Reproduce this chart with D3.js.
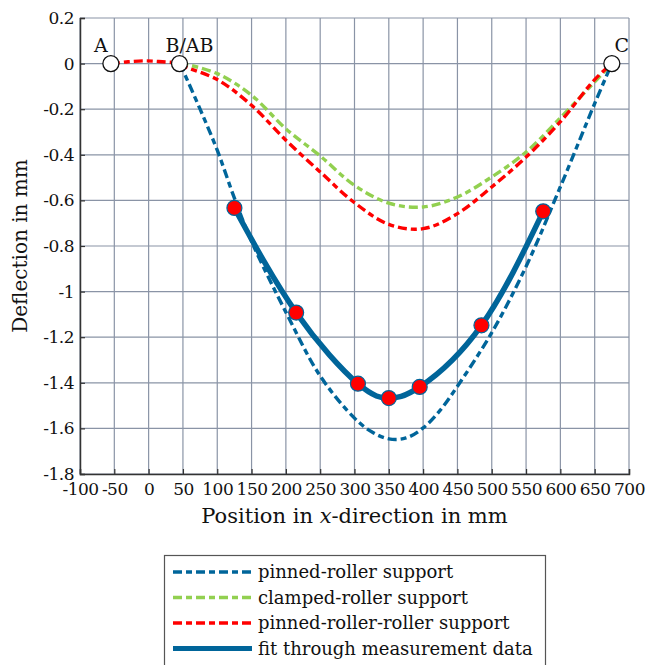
<!DOCTYPE html>
<html>
<head>
<meta charset="utf-8">
<script src="https://cdn.jsdelivr.net/npm/d3@7"></script>
<style>
  body { margin: 0; background: #fff; }
  svg { display: block; }
  svg text { font-family: "DejaVu Serif", "Liberation Serif", serif; }
</style>
</head>
<body>
<div id="chart"></div>
<script>
// Beam deflection chart

const xTicks = [-100, -50, 0, 50, 100, 150, 200, 250, 300, 350, 400, 450, 500, 550, 600, 650, 700];
const yTicks = [0.2, 0, -0.2, -0.4, -0.6, -0.8, -1, -1.2, -1.4, -1.6, -1.8];

// pinned-roller support
const pinnedX = [45, 50, 75, 100, 125, 150, 200, 250, 300, 325, 350, 375, 400, 425, 450, 500, 550, 600, 650, 675];
const pinnedY = [0, -0.03, -0.2, -0.38, -0.59, -0.78, -1.09, -1.37, -1.555, -1.615, -1.646, -1.642, -1.598, -1.52, -1.415, -1.18, -0.89, -0.54, -0.175, 0];

// clamped-roller support
const clampedX = [45, 50, 100, 150, 200, 250, 300, 350, 400, 450, 500, 550, 600, 650, 675];
const clampedY = [0, -0.001, -0.044, -0.139, -0.286, -0.405, -0.534, -0.612, -0.629, -0.585, -0.497, -0.388, -0.238, -0.08, 0];

// pinned-roller-roller support
const prrX = [-55, -30, -5, 20, 45, 50, 100, 150, 200, 250, 300, 350, 400, 450, 500, 550, 600, 650, 675];
const prrY = [0, 0.008, 0.012, 0.008, 0, -0.01, -0.07, -0.183, -0.336, -0.475, -0.61, -0.705, -0.724, -0.658, -0.541, -0.41, -0.255, -0.07, 0];

// measurement data (fit passes through them)
const measX = [125, 215, 305, 350, 395, 485, 575];
const measY = [-0.633, -1.092, -1.404, -1.467, -1.418, -1.148, -0.648];

// supports
const supportX = [-55, 45, 675];
const supportLabels = ['A', 'B/AB', 'C'];

const colors = {
    pinned: '#00659a',
    clamped: '#92d050',
    prr: '#ff0000',
    fit: '#00659a',
    grid: '#8a94a6'
};

const width = 661, height = 665;
const plotLeft = 80, plotRight = 629, plotTop = 18, plotBottom = 474;

const svg = d3.select('#chart').append('svg')
    .attr('width', width)
    .attr('height', height);

const x = d3.scaleLinear().domain([-100, 700]).range([plotLeft, plotRight]);
const y = d3.scaleLinear().domain([-1.8, 0.2]).range([plotBottom, plotTop]);

// Grid
const grid = svg.append('g').attr('class', 'grid');
grid.selectAll('line.v').data(xTicks).enter().append('line')
    .attr('x1', d => x(d)).attr('x2', d => x(d))
    .attr('y1', plotTop).attr('y2', plotBottom)
    .attr('stroke', colors.grid).attr('stroke-width', 1.2);
grid.selectAll('line.h').data(yTicks).enter().append('line')
    .attr('x1', plotLeft).attr('x2', plotRight)
    .attr('y1', d => y(d)).attr('y2', d => y(d))
    .attr('stroke', colors.grid).attr('stroke-width', 1.2);

// Axes
const xAxis = d3.axisBottom(x).tickValues(xTicks).tickSize(-5).tickPadding(7).tickFormat(d => String(d));
const yAxis = d3.axisLeft(y).tickValues(yTicks).tickSize(-5).tickPadding(6).tickFormat(d => String(d));

const gx = svg.append('g').attr('transform', `translate(0,${plotBottom})`).call(xAxis);
const gy = svg.append('g').attr('transform', `translate(${plotLeft},0)`).call(yAxis);
[gx, gy].forEach(g => {
    g.attr('font-family', null).attr('font-size', null);
    g.select('.domain').attr('stroke', '#333').attr('stroke-width', 1.5);
    g.selectAll('.tick line').attr('stroke', '#333').attr('stroke-width', 1.2);
    g.selectAll('.tick text').attr('fill', '#111').style('font-size', '17px')
        .style('letter-spacing', '-0.5px');
});
gx.selectAll('.tick text').attr('dy', '0.8em');

// Curves
const line = d3.line().x(d => x(d[0])).y(d => y(d[1])).curve(d3.curveCatmullRom.alpha(0.5));
const zip = (xs, ys) => xs.map((v, i) => [v, ys[i]]);

const dash = '9,4,6,4';
svg.append('path').datum(zip(clampedX, clampedY))
    .attr('d', line).attr('fill', 'none')
    .attr('stroke', colors.clamped).attr('stroke-width', 3.4).attr('stroke-dasharray', dash);
svg.append('path').datum(zip(prrX, prrY))
    .attr('d', line).attr('fill', 'none')
    .attr('stroke', colors.prr).attr('stroke-width', 3.4).attr('stroke-dasharray', dash);
svg.append('path').datum(zip(pinnedX, pinnedY))
    .attr('d', line).attr('fill', 'none')
    .attr('stroke', colors.pinned).attr('stroke-width', 3.4).attr('stroke-dasharray', dash);

// Fit through measurement data
const fitLine = d3.line().x(d => x(d[0])).y(d => y(d[1])).curve(d3.curveNatural);
svg.append('path').datum(zip(measX, measY))
    .attr('d', fitLine).attr('fill', 'none')
    .attr('stroke', colors.fit).attr('stroke-width', 5.5);

svg.selectAll('circle.meas').data(zip(measX, measY)).enter().append('circle')
    .attr('cx', d => x(d[0])).attr('cy', d => y(d[1])).attr('r', 7.5)
    .attr('fill', '#ff0000').attr('stroke', colors.fit).attr('stroke-width', 1.2);

// Support markers
svg.selectAll('circle.sup').data(supportX).enter().append('circle')
    .attr('cx', d => x(d)).attr('cy', y(0)).attr('r', 8)
    .attr('fill', '#fff').attr('stroke', '#111').attr('stroke-width', 1.3);

const labelOffsets = [[-10, -12], [10, -12], [10, -12]];
svg.selectAll('text.sup').data(supportX).enter().append('text')
    .attr('x', (d, i) => x(d) + labelOffsets[i][0])
    .attr('y', (d, i) => y(0) + labelOffsets[i][1])
    .attr('text-anchor', 'middle')
    .style('font-size', '19px')
    .attr('fill', '#111')
    .text((d, i) => supportLabels[i]);

// Axis labels
const xl = svg.append('text')
    .attr('x', (plotLeft + plotRight) / 2).attr('y', 523)
    .attr('text-anchor', 'middle').style('font-size', '21px').attr('fill', '#111');
xl.append('tspan').text('Position in ');
xl.append('tspan').style('font-style', 'italic').text('x');
xl.append('tspan').text('-direction in mm');

svg.append('text')
    .attr('transform', `translate(27,${(plotTop + plotBottom) / 2}) rotate(-90)`)
    .attr('text-anchor', 'middle').style('font-size', '20px').attr('fill', '#111')
    .text('Deflection in mm');

// Legend
const legendItems = [
    { label: 'pinned-roller support', color: colors.pinned, dash: dash, w: 3.4 },
    { label: 'clamped-roller support', color: colors.clamped, dash: dash, w: 3.4 },
    { label: 'pinned-roller-roller support', color: colors.prr, dash: dash, w: 3.4 },
    { label: 'fit through measurement data', color: colors.fit, dash: null, w: 5 }
];
const legend = svg.append('g');
legend.append('rect')
    .attr('x', 164.5).attr('y', 555.5).attr('width', 381).attr('height', 120)
    .attr('fill', '#fff').attr('stroke', '#555').attr('stroke-width', 1.2);
legendItems.forEach((d, i) => {
    const ly = 572 + i * 25.5;
    legend.append('line')
        .attr('x1', 173).attr('x2', 252).attr('y1', ly).attr('y2', ly)
        .attr('stroke', d.color).attr('stroke-width', d.w)
        .attr('stroke-dasharray', d.dash);
    legend.append('text')
        .attr('x', 258).attr('y', ly).attr('dy', '0.35em')
        .style('font-size', '18px').attr('fill', '#111')
        .text(d.label);
});
</script>
</body>
</html>
